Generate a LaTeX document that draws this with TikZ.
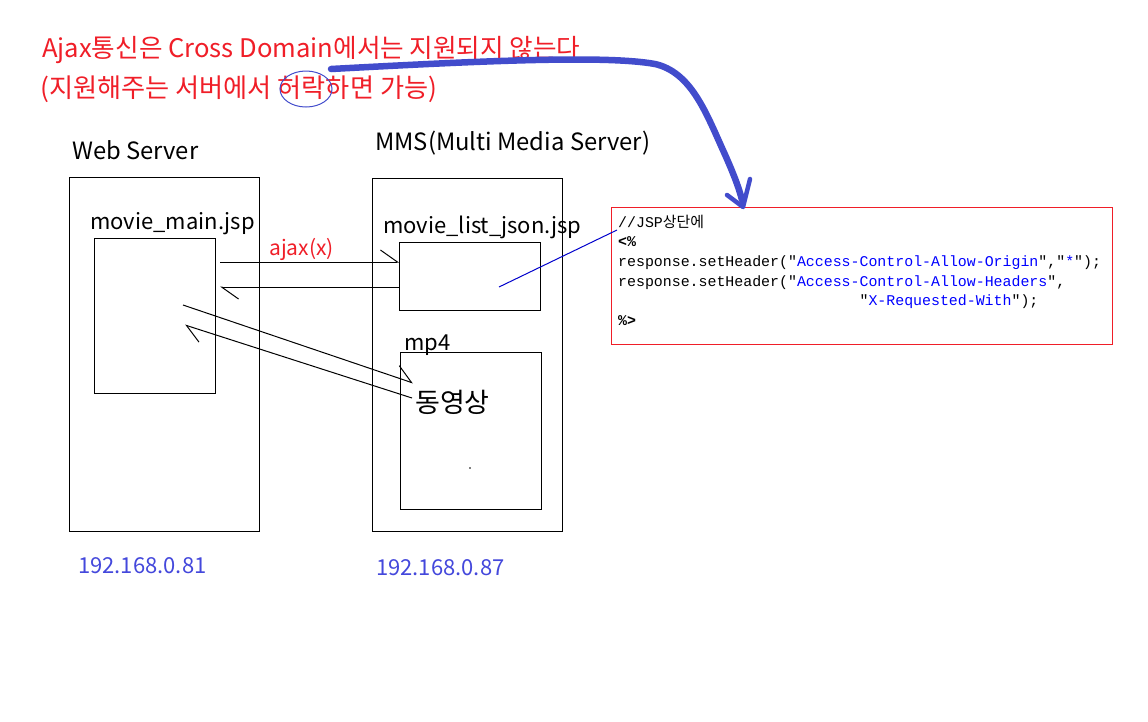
\documentclass[tikz,border=0pt]{standalone}
\usepackage{fontspec}
\setmainfont{Noto Sans CJK KR}
\newfontfamily\codefont{Liberation Mono}
\newfontfamily\cjk{Noto Sans CJK KR}
\usetikzlibrary{arrows.meta,shapes.geometric}
\definecolor{tred}{RGB}{240,30,40}
\definecolor{pblue}{RGB}{66,76,204}
\definecolor{ipblue}{RGB}{68,72,220}
\definecolor{cblue}{RGB}{0,0,255}
\begin{document}
\begin{tikzpicture}[x=1pt,y=-1pt,
  box/.style={draw=black,line width=1pt,inner sep=0pt,anchor=north west},
  lbl/.style={anchor=base west,inner sep=0pt,font=\fontsize{22}{26}\selectfont},
  big/.style={anchor=base west,inner sep=0pt,font=\fontsize{23.8}{28}\selectfont},
  ttl/.style={anchor=base west,inner sep=0pt,text=tred,font=\fontsize{25.6}{30}\selectfont},
  ip/.style={anchor=base west,inner sep=0pt,text=ipblue,font=\fontsize{22}{26}\selectfont},
  arr/.style={line width=1pt,-{Straight Barb[left,length=17pt,width=24pt,line width=1pt]}}
]
\useasboundingbox (0,0) rectangle (1148,721);
\fill[white] (0,0) rectangle (1148,721);

% titles
\node[ttl] (t1) at (42,57) {Ajax통신은 Cross Domain에서는 지원되지 않는다};
\node[ttl,font=\fontsize{26.2}{30}\selectfont] (t2) at (40,97) {(지원해주는 서버에서 허락하면 가능)};
\node[draw=pblue,line width=1pt,ellipse,minimum width=52,minimum height=36,inner sep=0] (circ) at (306,89) {};

% servers
\node[big] (wsl) at (72,159) {Web Server};
\node[box,minimum width=190,minimum height=354] (web) at (69,177) {};
\node[lbl] (mml) at (90,229) {movie\_main.jsp};
\node[box,minimum width=121,minimum height=155] (main) at (94,238) {};

\node[big] (mmsl) at (375,150) {MMS(Multi Media Server)};
\node[box,minimum width=190,minimum height=353] (mms) at (372,178) {};
\node[lbl] (mljl) at (383,233) {movie\_list\_json.jsp};
\node[box,minimum width=141,minimum height=68] (list) at (399,242) {};
\node[lbl] (mp4l) at (404,350) {mp4};
\node[box,minimum width=141,minimum height=157] (mp4) at (400,352) {};
\node[lbl,font=\fontsize{27}{31}\selectfont] (video) at (415,412) {동영상};
\fill (470,468) circle (0.8);

\node[anchor=base west,inner sep=0pt,text=tred,font=\fontsize{21}{24}\selectfont] (ajax) at (269,255) {ajax(x)};

% IPs
\node[ip] (ip1) at (78,573) {192.168.0.81};
\node[ip] (ip2) at (376,575) {192.168.0.87};

% connectors
\coordinate (a1s) at (220,262);
\draw[arr] (a1s) -- (list.west |- a1s);
\coordinate (a2s) at (399,287);
\coordinate (a2e) at (220,287);
\draw[arr] (a2s) -- (a2e);
\coordinate (a3s) at (183,305);
\coordinate (a3e) at (413,383);
\draw[arr] (a3s) -- (a3e);
\coordinate (a4s) at (412,398);
\coordinate (a4e) at (185,325);
\draw[arr] (a4s) -- (a4e);

% code box
\node[draw=tred,line width=1pt,minimum width=501,minimum height=137,inner sep=0,anchor=north west] (codebox) at (611,207) {};
\node[anchor=base west,inner sep=0pt,align=left,font=\codefont\fontsize{14.9}{19.7}\selectfont] (code) at (618,325.5) {%
//JSP{\cjk 상단에}\\
\textbf{<\%}\\
response.setHeader("\textcolor{cblue}{Access-Control-Allow-Origin}","\textcolor{cblue}{*}");\\
response.setHeader("\textcolor{cblue}{Access-Control-Allow-Headers}",\\
\hspace*{16.2em}"\textcolor{cblue}{X-Requested-With}");\\
\textbf{\%>}};

\coordinate (pin) at (499,287);
\coordinate (pinend) at (617,230);
\draw[line width=1pt,color=blue!80!black] (pin) -- (pinend);

% thick hand-drawn arrow
\coordinate (bs) at (331,69);
\coordinate (bm) at (655,64);
\coordinate (bn) at (722,148);
\coordinate (be) at (742,200);
\draw[pblue,line width=6.5pt,line cap=round,line join=round]
  (bs) .. controls (480,61) and (605,55) .. (bm)
       .. controls (690,72) and (705,110) .. (bn)
       .. controls (733,172) and (739,188) .. (be);
\coordinate (tipA) at (727,195);
\coordinate (tip) at (743,207);
\coordinate (tipB) at (750,179);
\draw[pblue,line width=4.5pt,line cap=round,line join=round] (tipA) -- (tip) -- (tipB);
\end{tikzpicture}
\end{document}
